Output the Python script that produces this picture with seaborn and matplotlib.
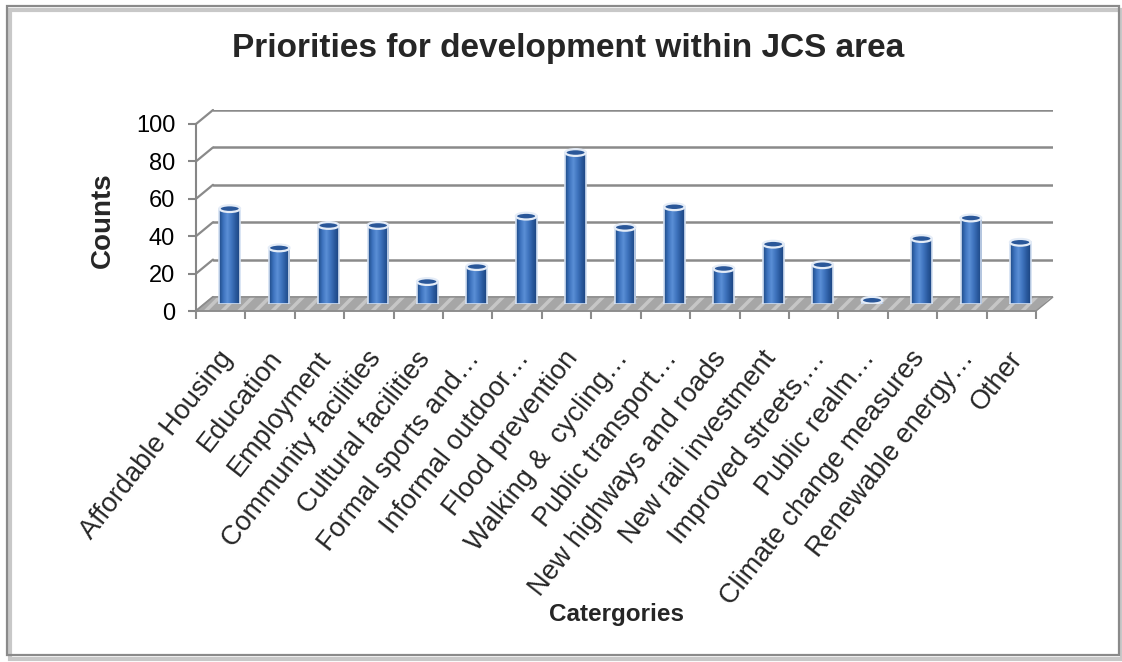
import numpy as np
import pandas as pd
import matplotlib
matplotlib.use("Agg")
import matplotlib.pyplot as plt
import seaborn as sns
from matplotlib.patches import Polygon, Rectangle, Ellipse
from matplotlib.lines import Line2D
from matplotlib.colors import LinearSegmentedColormap
from matplotlib.transforms import ScaledTranslation

# ---------------- data ----------------
categories = [
    "Affordable Housing", "Education", "Employment", "Community facilities",
    "Cultural facilities", "Formal sports and\u2026", "Informal outdoor\u2026",
    "Flood prevention", "Walking &  cycling\u2026", "Public transport\u2026",
    "New highways and roads", "New rail investment", "Improved streets,\u2026",
    "Public realm\u2026", "Climate change measures", "Renewable energy\u2026", "Other",
]
counts = [51, 30, 42, 42, 12, 20, 47, 81, 41, 52, 19, 32, 21, 2, 35, 46, 33]
y_ticks = [0, 20, 40, 60, 80, 100]

title = "Priorities for development within JCS area"
x_title = "Catergories"
y_title = "Counts"

# ---------------- style ----------------
sns.set_theme(style="white")
plt.rcParams["font.family"] = ["Liberation Sans", "DejaVu Sans"]

W, H = 1122, 662
fig = plt.figure(figsize=(W / 100, H / 100), dpi=100)
fig.patch.set_facecolor("white")


def px_axes(left, top_of_zero, width, height):
    """axes rectangle from pixel coords (top-origin)"""
    bottom = H - top_of_zero
    return [left / W, bottom / H, width / W, height / H]


AX_W, AX_H = 840, 187
n = len(categories)

ax_back = fig.add_axes(px_axes(213, 297, AX_W, AX_H))
ax_bars = fig.add_axes(px_axes(205, 304, AX_W, AX_H))
ax_front = fig.add_axes(px_axes(196, 311, AX_W, AX_H))

for a in (ax_back, ax_bars, ax_front):
    a.set_xlim(-0.5, n - 0.5)
    a.set_ylim(0, 100)
    a.patch.set_alpha(0)
    for s in a.spines.values():
        s.set_visible(False)

ax_back.set_zorder(0)
ax_bars.set_zorder(2)
ax_front.set_zorder(3)

grid_col = "#8A8A8A"
ax_back.set_yticks(y_ticks)
ax_back.set_xticks([])
ax_back.tick_params(left=False, labelleft=False)
ax_back.yaxis.grid(True, color=grid_col, lw=1.8)
ax_back.set_axisbelow(True)

# bars via seaborn
df = pd.DataFrame({"cat": categories, "count": counts})
sns.barplot(data=df, x="cat", y="count", ax=ax_bars, color="#3A6DB5",
            width=0.42, order=categories, saturation=1)
ax_bars.set_xlim(-0.5, n - 0.5)
ax_bars.set_ylim(0, 100)
ax_bars.set_xticks([])
ax_bars.set_yticks([])
ax_bars.set_xlabel("")
ax_bars.set_ylabel("")

cyl = LinearSegmentedColormap.from_list(
    "cyl", ["#1E4A86", "#3C72BD", "#5B8FD6", "#3F74BE", "#2A5A9E", "#1C4480"])
grad = np.linspace(0, 1, 64).reshape(1, -1)
cap_h = 3.6
for p in list(ax_bars.patches):
    x0, y0 = p.get_x(), p.get_y()
    w, h = p.get_width(), p.get_height()
    p.set_facecolor("none")
    p.set_edgecolor("#D3E0F2")
    p.set_linewidth(1.2)
    im = ax_bars.imshow(grad, extent=[x0, x0 + w, y0, y0 + h], aspect="auto",
                        cmap=cyl, zorder=p.get_zorder() - 0.05)
    im.set_clip_path(p)
    ax_bars.add_patch(Ellipse((x0 + w / 2, y0), w, cap_h, facecolor="#2C5DA2",
                              edgecolor="#D3E0F2", lw=1.2, zorder=p.get_zorder() - 0.1))
    ax_bars.add_patch(Ellipse((x0 + w / 2, y0 + h), w, cap_h, facecolor="#2A5799",
                              edgecolor="#E4ECF7", lw=1.6, zorder=p.get_zorder() + 0.1))
ax_bars.set_xlim(-0.5, n - 0.5)
ax_bars.set_ylim(0, 100)

# floor
fig.canvas.draw()
inv = fig.transFigure.inverted()


def to_fig(ax, x, y):
    return inv.transform(ax.transData.transform((x, y)))


fl = to_fig(ax_front, -0.5, 0)
fr = to_fig(ax_front, n - 0.5, 0)
br = to_fig(ax_back, n - 0.5, 0)
bl = to_fig(ax_back, -0.5, 0)
plt.rcParams["hatch.linewidth"] = 2.5
floor = Polygon([fl, fr, br, bl], closed=True, transform=fig.transFigure,
                facecolor="#A6A6A6", edgecolor="#C6C6C6", hatch="//", lw=0, zorder=1)
fig.add_artist(floor)
fig.add_artist(Polygon([fl, fr, br, bl], closed=True, transform=fig.transFigure,
                       fill=False, edgecolor="#8C8C8C", lw=1.0, zorder=1.1))

for v in y_ticks:
    a = to_fig(ax_front, -0.5, v)
    b = to_fig(ax_back, -0.5, v)
    fig.add_artist(Line2D([a[0], b[0]], [a[1], b[1]], transform=fig.transFigure,
                          color=grid_col, lw=1.6, zorder=0.5))

# front axis
ax_front.spines["left"].set_visible(True)
ax_front.spines["left"].set_color("#868686")
ax_front.spines["left"].set_linewidth(1.5)
ax_front.spines["bottom"].set_visible(True)
ax_front.spines["bottom"].set_color("#8C8C8C")
ax_front.spines["bottom"].set_linewidth(1.2)
ax_front.set_yticks(y_ticks)
ax_front.set_yticklabels([str(v) for v in y_ticks])
ax_front.tick_params(axis="y", direction="out", length=6, width=1.5,
                     color="#868686", pad=9, labelsize=17, labelcolor="black", left=True)
ax_front.set_xticks(np.arange(n))
ax_front.set_xticks(np.arange(n + 1) - 0.5, minor=True)
ax_front.set_xticklabels(categories, rotation=52, ha="right", va="center",
                         rotation_mode="anchor", fontsize=19.5)
ax_front.tick_params(axis="x", which="major", length=0, pad=31, bottom=True)
ax_front.tick_params(axis="x", which="minor", direction="out", length=6, width=1.5,
                     color="#8C8C8C", bottom=True)
off = ScaledTranslation(7 / 100, 0, fig.dpi_scale_trans)
for lbl in ax_front.get_xticklabels():
    lbl.set_transform(lbl.get_transform() + off)

# titles
fig.text(568 / W, 1 - 48 / H, title, ha="center", va="center",
         fontsize=24, fontweight="bold")
fig.text(103 / W, 1 - 220 / H, y_title, ha="center", va="center",
         rotation=90, fontsize=20, fontweight="bold")
fig.text(616 / W, 1 - 615 / H, x_title, ha="center", va="center",
         fontsize=17.5, fontweight="bold")

# chart frame with soft shadow
fig.add_artist(Rectangle((10 / W, 1 - 659 / H), 1112 / W, 649 / H,
                         transform=fig.transFigure, facecolor="none",
                         edgecolor="#C8C8C8", lw=3, zorder=-2))
fig.add_artist(Rectangle((7 / W, 1 - 655 / H), 1112 / W, 649 / H,
                         transform=fig.transFigure, facecolor="none",
                         edgecolor="#8A8A8A", lw=1.6, zorder=-1))

fig.savefig("out.png", dpi=100)
